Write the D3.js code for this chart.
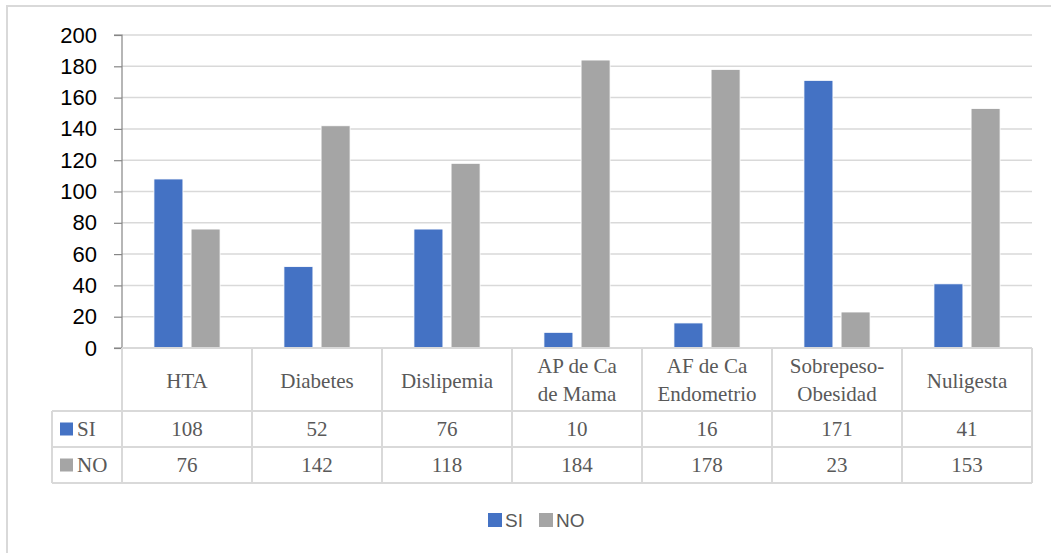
<!DOCTYPE html>
<html><head><meta charset="utf-8">
<script src="https://cdn.jsdelivr.net/npm/d3@7"></script>
<style>body{margin:0;background:#fff}</style>
</head><body>
<svg id="c" width="1051" height="553"></svg>
<script>
const categories = [["HTA"],["Diabetes"],["Dislipemia"],["AP de Ca","de Mama"],["AF de Ca","Endometrio"],["Sobrepeso-","Obesidad"],["Nuligesta"]];
const seriesNames = ["SI","NO"];
const siValues = [108,52,76,10,16,171,41];
const noValues = [76,142,118,184,178,23,153];
const yTicks = [0,20,40,60,80,100,120,140,160,180,200];
const colors = {SI:"#4472C4", NO:"#A5A5A5"};
const seriesValues = {SI: siValues, NO: noValues};

(function(){
const svg = d3.select("#c");
const pL = 122, pR = 1032, pT = 35, pB = 348;
const gridC = "#D9D9D9", textC = "#595959";

svg.append("rect").attr("x",7).attr("y",6).attr("width",1060).attr("height",560)
  .attr("fill","none").attr("stroke","#D9D9D9").attr("stroke-width",2);

const x = d3.scaleBand().domain(d3.range(categories.length)).range([pL,pR]);
const y = d3.scaleLinear().domain([0,200]).range([pB,pT]);
const xs = d3.scaleBand().domain(seriesNames).range([0, x.bandwidth()]).paddingInner(0.22).paddingOuter(0.86);

svg.append("g").selectAll("line").data(yTicks.filter(d=>d>0)).join("line")
  .attr("x1",pL).attr("x2",pR).attr("y1",d=>y(d)).attr("y2",d=>y(d))
  .attr("stroke",gridC).attr("stroke-width",1.5);

seriesNames.forEach(s=>{
  svg.append("g").selectAll("rect").data(seriesValues[s]).join("rect")
    .attr("x",(d,i)=>x(i)+xs(s)).attr("width",xs.bandwidth())
    .attr("y",d=>y(d)).attr("height",d=>y(0)-y(d))
    .attr("fill",colors[s]).attr("stroke","#fff").attr("stroke-width",0.8);
});

const ya = svg.append("g").attr("transform",`translate(${pL},0)`)
  .call(d3.axisLeft(y).tickValues(yTicks).tickSize(8).tickPadding(17));
ya.select(".domain").attr("stroke","#868686").attr("stroke-width",1.2).attr("d",`M-8,${pT}H0V${pB}H-8`);
ya.selectAll(".tick line").attr("stroke","#868686").attr("stroke-width",1.2);
ya.selectAll(".tick text").attr("font-family","Liberation Sans, Arial, sans-serif").attr("font-size",22).attr("fill","#000");

const tb = svg.append("g");
const rowH = [348,411,447,483];
const tableLeft = 52;
const bc = "#D9D9D9";
tb.append("line").attr("x1",pL).attr("x2",pR).attr("y1",rowH[0]).attr("y2",rowH[0]).attr("stroke",bc).attr("stroke-width",2);
[rowH[1],rowH[2],rowH[3]].forEach(v=>tb.append("line").attr("x1",tableLeft).attr("x2",pR).attr("y1",v).attr("y2",v).attr("stroke",bc).attr("stroke-width",2));
d3.range(categories.length+1).forEach(i=>{
  const xv = pL + i*x.bandwidth();
  tb.append("line").attr("x1",xv).attr("x2",xv).attr("y1",rowH[0]).attr("y2",rowH[3]).attr("stroke",bc).attr("stroke-width",2);
});
tb.append("line").attr("x1",tableLeft).attr("x2",tableLeft).attr("y1",rowH[1]).attr("y2",rowH[3]).attr("stroke",bc).attr("stroke-width",2);

const serif = "Liberation Serif, Times New Roman, serif";
categories.forEach((lines,i)=>{
  const cx = x(i)+x.bandwidth()/2;
  const t = tb.append("text").attr("x",cx).attr("text-anchor","middle")
    .attr("font-family",serif).attr("font-size",21).attr("fill",textC);
  if(lines.length===1){
    t.attr("y",388).text(lines[0]);
  } else {
    lines.forEach((l,k)=>t.append("tspan").attr("x",cx).attr("y",373+k*28).text(l));
  }
});
seriesNames.forEach((s,r)=>{
  const yc = (rowH[r+1]+rowH[r+2])/2;
  tb.append("rect").attr("x",60).attr("y",yc-6.5).attr("width",13).attr("height",13).attr("fill",colors[s]);
  tb.append("text").attr("x",77).attr("y",yc+7).attr("font-family",serif).attr("font-size",21).attr("fill",textC).text(s);
  seriesValues[s].forEach((v,i)=>{
    tb.append("text").attr("x",x(i)+x.bandwidth()/2).attr("y",yc+7).attr("text-anchor","middle")
      .attr("font-family",serif).attr("font-size",21).attr("fill",textC).text(v);
  });
});

const lg = svg.append("g");
const lx = [488,539];
seriesNames.forEach((s,i)=>{
  lg.append("rect").attr("x",lx[i]).attr("y",513).attr("width",14).attr("height",14).attr("fill",colors[s]);
  lg.append("text").attr("x",lx[i]+17).attr("y",527).attr("font-family","Liberation Sans, Arial, sans-serif")
    .attr("font-size",19).attr("fill",textC).text(s);
});
})();
</script>
</body></html>
